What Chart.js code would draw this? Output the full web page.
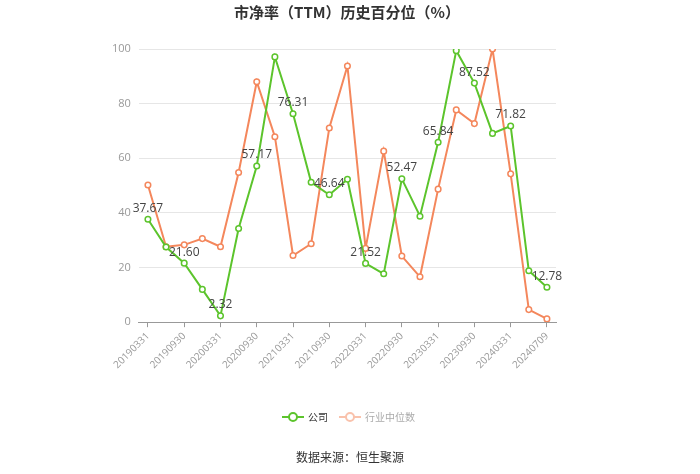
<!DOCTYPE html>
<html><head><meta charset="utf-8">
<script src="https://cdn.jsdelivr.net/npm/chart.js@4/dist/chart.umd.min.js"></script>
<style>html,body{margin:0;padding:0;background:#fff}#wrap{width:700px;height:474px}</style>
</head><body><div id="wrap"><canvas id="c" width="700" height="474"></canvas></div>
<script>
const categories = ["20190331","20190630","20190930","20191231","20200331","20200630","20200930","20201231","20210331","20210630","20210930","20211231","20220331","20220630","20220930","20221231","20230331","20230630","20230930","20231231","20240331","20240630","20240709"];
const companyValues = [37.67,27.5,21.60,12.0,2.32,34.3,57.17,97.1,76.31,51.2,46.64,52.3,21.52,17.7,52.47,38.8,65.84,99.4,87.52,69.1,71.82,18.8,12.78];
const industryValues = [50.2,27.6,28.3,30.6,27.6,54.8,88.0,67.9,24.4,28.7,71.1,93.8,27.0,62.6,24.2,16.6,48.7,77.7,72.7,100,54.3,4.6,1.2];
const yTicks = [0,20,40,60,80,100];
const seriesNames = ["公司","行业中位数"];
const titleText = "市净率（TTM）历史百分位（%）";
const sourceText = "数据来源：恒生聚源";

const GREEN = "#5cc42c", ORANGE = "#f4875c";
function legendIcon(color){
  const cv = document.createElement('canvas'); cv.width = 22; cv.height = 12;
  const g = cv.getContext('2d');
  g.strokeStyle = color; g.lineWidth = 2;
  g.beginPath(); g.moveTo(0,6); g.lineTo(22,6); g.stroke();
  g.fillStyle = '#fff'; g.beginPath(); g.arc(11,6,4,0,Math.PI*2); g.fill(); g.stroke();
  return cv;
}
const labelPlugin = {
  id:'valueLabels',
  afterDatasetsDraw(chart){
    const ctx = chart.ctx; const meta = chart.getDatasetMeta(0);
    ctx.save(); ctx.font = '12px "Open Sans", "Noto Sans CJK SC", sans-serif';
    ctx.fillStyle = '#444'; ctx.textAlign = 'center'; ctx.textBaseline = 'bottom';
    meta.data.forEach((pt,i)=>{ if(i%2===0){ ctx.fillText(companyValues[i].toFixed(2), pt.x, pt.y-5); } });
    ctx.restore();
  }
};
const shiftPlugin = {
  id:'centerBoxes',
  afterLayout(chart){
    const t = chart.titleBlock; if(t){ t.left += 17; t.right += 17; }
    const l = chart.legend; if(l){ l.left += 19; l.right += 19; }
  }
};
const sourcePlugin = {
  id:'source',
  afterDraw(chart){
    const ctx = chart.ctx; ctx.save();
    ctx.font = '12px "Noto Sans CJK SC", sans-serif'; ctx.fillStyle = '#333';
    ctx.textAlign = 'center'; ctx.textBaseline = 'middle';
    ctx.fillText(sourceText, 350, 457); ctx.restore();
  }
};
new Chart(document.getElementById('c'), {
  type:'line',
  data:{ labels:categories, datasets:[
    {label:seriesNames[0], data:companyValues, borderColor:GREEN, backgroundColor:'#fff', borderWidth:2, pointRadius:2.8, pointBorderWidth:1.5, pointBackgroundColor:'#fff', pointBorderColor:GREEN, tension:0},
    {label:seriesNames[1], data:industryValues, borderColor:ORANGE, backgroundColor:'#fff', borderWidth:2, pointRadius:2.8, pointBorderWidth:1.5, pointBackgroundColor:'#fff', pointBorderColor:ORANGE, tension:0}
  ]},
  options:{
    responsive:false, animation:false, devicePixelRatio:1,
    layout:{padding:{left:104,right:144,top:0,bottom:42}},
    plugins:{
      title:{display:true, text:titleText, color:'#333', font:{size:15, weight:'bold', family:'"Noto Sans CJK SC", sans-serif'}, padding:{top:3,bottom:28}},
      legend:{position:'bottom', labels:{
        usePointStyle:true, pointStyleWidth:20, boxHeight:12, padding:12,
        font:{size:10, family:'"Noto Sans CJK SC", sans-serif'},
        generateLabels(){ return [
          {text:seriesNames[0], pointStyle:legendIcon(GREEN), fontColor:'#333', datasetIndex:0, lineWidth:0, strokeStyle:'transparent', fillStyle:'transparent'},
          {text:seriesNames[1], pointStyle:legendIcon('#f9c2ac'), fontColor:'#aaa', datasetIndex:1, lineWidth:0, strokeStyle:'transparent', fillStyle:'transparent'}
        ]; }
      }},
      tooltip:{enabled:false}
    },
    scales:{
      x:{ offset:true,
        afterFit:(s)=>{ s.height += 26; },
        grid:{offset:false, drawOnChartArea:false, tickLength:5, tickColor:(c)=> (c.index%2===0 ? '#999' : 'transparent')},
        border:{color:'#999'},
        ticks:{autoSkip:false, maxRotation:45, minRotation:45, color:'#999', font:{size:10, family:'"Open Sans", sans-serif'},
          callback:(v,i)=> (i%2===0 ? categories[i] : '')}
      },
      y:{ min:0, max:100,
        afterBuildTicks:(ax)=>{ ax.ticks = yTicks.map(v=>({value:v})); },
        grid:{color:'#e6e6e6', drawTicks:false},
        border:{display:false},
        ticks:{color:'#999', padding:8, font:{size:11, family:'"Open Sans", sans-serif'}}
      }
    }
  },
  plugins:[labelPlugin, shiftPlugin, sourcePlugin]
});
</script></body></html>
